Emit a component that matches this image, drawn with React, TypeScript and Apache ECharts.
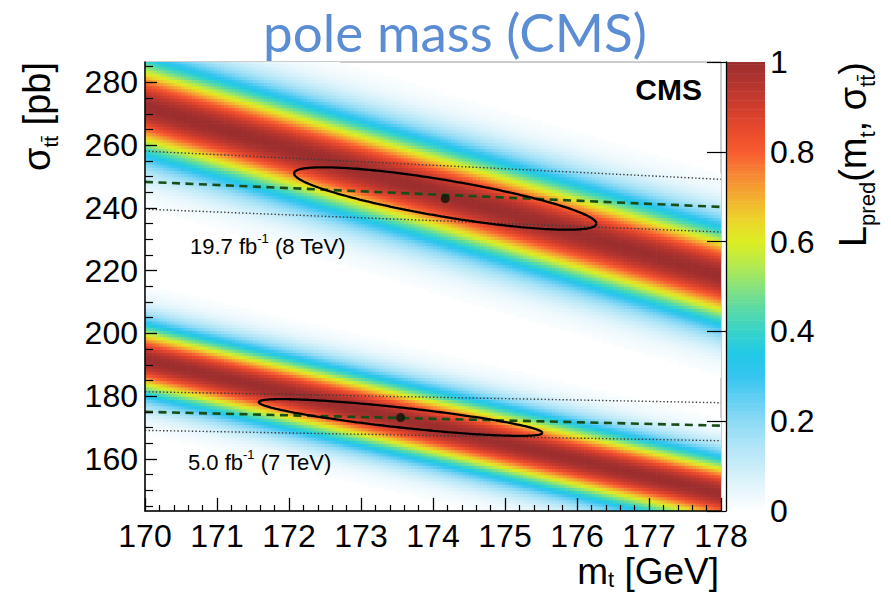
import React, { useEffect, useRef } from "react";
import * as echarts from "echarts";

// ---- axis ranges and ticks ----
const MT_MIN = 170;
const MT_MAX = 178;
const SIGMA_MIN = 143.4;
const SIGMA_MAX = 286.5;
const SIGMA_MAJOR_TICKS = [160, 180, 200, 220, 240, 260, 280];
const SIGMA_MINOR_TICKS = [
  145, 150, 155, 165, 170, 175, 185, 190, 195, 205, 210, 215, 225, 230, 235, 245, 250, 255, 265,
  270, 275, 285,
];
const L_MIN = 0;
const L_MAX = 1;

// ---- predicted likelihood bands: ridge sigma at mt = 170 and 178 GeV, gaussian width in pb ----
const BAND_RIDGE_8TEV = [272.5, 218.5];
const BAND_WIDTH_8TEV = 10.6;
const BAND_RIDGE_7TEV = [191.8, 149.2];
const BAND_WIDTH_7TEV = 7.8;

// ---- measured cross section vs. assumed mt (central, +/- 1 sd) at mt = 170 and 178 GeV ----
const MEAS_8TEV_CENTRAL = [248.3, 240.3];
const MEAS_8TEV_UP = [258.1, 249.1];
const MEAS_8TEV_DOWN = [239.6, 232.3];
const MEAS_7TEV_CENTRAL = [175.0, 170.6];
const MEAS_7TEV_UP = [181.4, 177.9];
const MEAS_7TEV_DOWN = [169.1, 165.8];

// ---- best-fit points (mt, sigma) and 1 sd contours (mt half-width, sigma half-height, correlation) ----
const BEST_8TEV = [174.17, 243.0];
const BEST_7TEV = [173.55, 173.2];
const CONTOUR_8TEV = [2.1, 9.94, -0.805];
const CONTOUR_7TEV = [1.97, 5.85, -0.838];

// ---- colour palette of L_pred, evenly spaced from 0 to 1 ----
const PALETTE = [
  "#ffffff", "#e6f6fc", "#c9edf9", "#ade4f7", "#8cdaf5", "#62cff3", "#36c5f0", "#22c8e6",
  "#36d3cb", "#58daa6", "#88e27c", "#b6ea4e", "#dcee22", "#ecd42a", "#f3ad30", "#f78734",
  "#f85c30", "#e84a2d", "#d03d2d", "#b5352f", "#9c2e2e",
];

const FONT = '"Liberation Sans", Arial, Helvetica, sans-serif';

// histogram binning of the likelihood map
const MT_BIN = 0.05;
const SIGMA_BIN = 1;
const SIGMA_BIN_START = 143;
const L_BIN = 0.005;

const BANDS = [
  { ridge: BAND_RIDGE_8TEV, width: BAND_WIDTH_8TEV },
  { ridge: BAND_RIDGE_7TEV, width: BAND_WIDTH_7TEV },
];

function ridgeAt(ridge: number[], mt: number) {
  return ridge[0] + ((ridge[1] - ridge[0]) * (mt - MT_MIN)) / (MT_MAX - MT_MIN);
}

function buildCells() {
  const cells: number[][] = [];
  const nMt = Math.round((MT_MAX - MT_MIN) / MT_BIN);
  for (let i = 0; i < nMt; i++) {
    const m0 = MT_MIN + i * MT_BIN;
    const mc = m0 + MT_BIN / 2;
    for (let j = 0; ; j++) {
      const s0 = SIGMA_BIN_START + j * SIGMA_BIN;
      if (s0 >= SIGMA_MAX) break;
      const sc = s0 + SIGMA_BIN / 2;
      let l = 0;
      for (const b of BANDS) {
        const d = (sc - ridgeAt(b.ridge, mc)) / b.width;
        l = Math.max(l, Math.exp(-0.5 * d * d));
      }
      if (l >= 0.01) cells.push([m0, s0, l]);
    }
  }
  return cells;
}

function buildScale() {
  const stripes: number[][] = [];
  const n = Math.round((L_MAX - L_MIN) / L_BIN);
  for (let k = 0; k < n; k++) {
    const z0 = L_MIN + k * L_BIN;
    stripes.push([0, z0, z0 + L_BIN / 2]);
  }
  return stripes;
}

function contour(center: number[], shape: number[]) {
  const [sx, sy, rho] = shape;
  const pts: number[][] = [];
  const n = 240;
  for (let k = 0; k <= n; k++) {
    const t = (2 * Math.PI * k) / n;
    const dx = sx * Math.cos(t);
    const dy = sy * (rho * Math.cos(t) + Math.sqrt(1 - rho * rho) * Math.sin(t));
    pts.push([center[0] + dx, center[1] + dy]);
  }
  return pts;
}

function measLine(vals: number[]) {
  return [
    [MT_MIN, vals[0]],
    [MT_MAX, vals[1]],
  ];
}

function buildOption(): any {
  const dotted = { color: "#3c3c3c", width: 1.4, type: [1.4, 2.2] };
  const dashed = { color: "#174d17", width: 2.6, type: [8, 5.5] };
  const lineSeries = (vals: number[], style: any) => ({
    type: "line",
    xAxisIndex: 0,
    yAxisIndex: 0,
    data: measLine(vals),
    symbol: "none",
    silent: true,
    z: 3,
    lineStyle: style,
  });
  const ellipse = (center: number[], shape: number[]) => ({
    type: "line",
    xAxisIndex: 0,
    yAxisIndex: 0,
    data: contour(center, shape),
    symbol: "none",
    silent: true,
    z: 4,
    lineStyle: { color: "#000", width: 2.3 },
  });

  const sub = (size: number, h: number, pad: number) => ({
    fontSize: size,
    fontFamily: FONT,
    fill: "#000",
    color: "#000",
    height: h,
    lineHeight: h,
    verticalAlign: "top",
    padding: [pad, 0, 0, 0],
  });
  const main = (size: number, h: number) => ({
    fontSize: size,
    fontFamily: FONT,
    fill: "#000",
    color: "#000",
    height: h,
    lineHeight: h,
    verticalAlign: "top",
  });

  const lumiLabel = (x: number, y: number, text: string) => ({
    type: "text",
    x,
    y,
    z: 20,
    style: {
      text,
      align: "left",
      textAlign: "left",
      verticalAlign: "middle",
      textVerticalAlign: "middle",
      fill: "#000",
      rich: { a: main(22, 28), s: sub(13, 13, 0) },
    },
  });

  const tickLabel = { fontSize: 32, color: "#000", fontFamily: FONT };

  return {
    animation: false,
    backgroundColor: "#fff",
    textStyle: { fontFamily: FONT },
    grid: [
      {
        left: 145,
        top: 62,
        width: 576,
        height: 449,
        show: true,
        borderColor: "#9a9a9a",
        borderWidth: 1,
        backgroundColor: "transparent",
      },
      { left: 726, top: 62, width: 39, height: 449 },
    ],
    visualMap: {
      type: "continuous",
      show: false,
      min: L_MIN,
      max: L_MAX,
      dimension: 2,
      seriesIndex: [0, 1],
      inRange: { color: PALETTE },
    },
    xAxis: [
      {
        type: "value",
        gridIndex: 0,
        min: MT_MIN,
        max: MT_MAX,
        interval: 1,
        z: 6,
        axisLine: { show: true, onZero: false, lineStyle: { color: "#000", width: 1.5 } },
        axisTick: { show: true, inside: true, length: 13, lineStyle: { color: "#000", width: 1.3 } },
        minorTick: { show: true, splitNumber: 5, length: 6, lineStyle: { color: "#000", width: 1.2 } },
        axisLabel: { ...tickLabel, margin: 9 },
        splitLine: { show: false },
      },
      { type: "value", gridIndex: 1, min: 0, max: 1, show: false },
    ],
    yAxis: [
      {
        type: "value",
        gridIndex: 0,
        min: SIGMA_MIN,
        max: SIGMA_MAX,
        z: 6,
        axisLine: { show: true, onZero: false, lineStyle: { color: "#000", width: 1.5 } },
        axisTick: {
          show: true,
          inside: true,
          length: 12,
          customValues: SIGMA_MAJOR_TICKS,
          lineStyle: { color: "#000", width: 1.3 },
        },
        axisLabel: { ...tickLabel, margin: 7, customValues: SIGMA_MAJOR_TICKS },
        splitLine: { show: false },
      },
      {
        type: "value",
        gridIndex: 0,
        min: SIGMA_MIN,
        max: SIGMA_MAX,
        position: "left",
        z: 6,
        axisLine: { show: false },
        axisTick: {
          show: true,
          inside: true,
          length: 8,
          customValues: SIGMA_MINOR_TICKS,
          lineStyle: { color: "#000", width: 1.2 },
        },
        axisLabel: { show: false },
        splitLine: { show: false },
      },
      {
        type: "value",
        gridIndex: 1,
        min: L_MIN,
        max: L_MAX,
        interval: 0.2,
        position: "right",
        z: 6,
        axisLine: { show: true, lineStyle: { color: "#000", width: 1.3 } },
        axisTick: { show: true, inside: true, length: 19, lineStyle: { color: "#000", width: 1.2 } },
        axisLabel: { ...tickLabel, margin: 5 },
        splitLine: { show: false },
      },
    ],
    series: [
      {
        type: "custom",
        name: "L_pred",
        xAxisIndex: 0,
        yAxisIndex: 0,
        data: buildCells(),
        encode: { x: 0, y: 1 },
        clip: true,
        silent: true,
        progressive: 0,
        progressiveThreshold: 1000000,
        z: 1,
        renderItem: (_params: any, api: any) => {
          const m0 = api.value(0);
          const s0 = api.value(1);
          const tl = api.coord([m0, s0 + SIGMA_BIN]);
          const br = api.coord([m0 + MT_BIN, s0]);
          return {
            type: "rect",
            shape: { x: tl[0], y: tl[1], width: br[0] - tl[0] + 0.7, height: br[1] - tl[1] + 0.7 },
            style: { fill: api.visual("color") },
          };
        },
      },
      {
        type: "custom",
        name: "scale",
        xAxisIndex: 1,
        yAxisIndex: 2,
        data: buildScale(),
        encode: { x: 0, y: 1 },
        silent: true,
        progressive: 0,
        z: 1,
        renderItem: (_params: any, api: any) => {
          const z0 = api.value(1);
          const tl = api.coord([0, z0 + L_BIN]);
          const br = api.coord([1, z0]);
          return {
            type: "rect",
            shape: { x: tl[0], y: tl[1], width: br[0] - tl[0], height: br[1] - tl[1] + 0.6 },
            style: { fill: api.visual("color") },
          };
        },
      },
      lineSeries(MEAS_8TEV_UP, dotted),
      lineSeries(MEAS_8TEV_DOWN, dotted),
      lineSeries(MEAS_7TEV_UP, dotted),
      lineSeries(MEAS_7TEV_DOWN, dotted),
      lineSeries(MEAS_8TEV_CENTRAL, dashed),
      lineSeries(MEAS_7TEV_CENTRAL, dashed),
      ellipse(BEST_8TEV, CONTOUR_8TEV),
      ellipse(BEST_7TEV, CONTOUR_7TEV),
      {
        type: "scatter",
        xAxisIndex: 0,
        yAxisIndex: 0,
        data: [BEST_8TEV, BEST_7TEV],
        symbol: "circle",
        symbolSize: 9,
        silent: true,
        z: 5,
        itemStyle: { color: "#061806" },
      },
    ],
    graphic: [
      {
        type: "text",
        x: 455,
        y: 31,
        style: {
          text: "pole mass (CMS)",
          fontSize: 53,
          fontFamily: "Lato, 'Open Sans', sans-serif",
          fill: "#5b8dd4",
          align: "center",
          textAlign: "center",
          verticalAlign: "middle",
          textVerticalAlign: "middle",
        },
      },
      {
        type: "text",
        x: 702,
        y: 89,
        z: 20,
        style: {
          text: "CMS",
          fontSize: 30,
          fontWeight: "bold",
          fontFamily: FONT,
          fill: "#000",
          align: "right",
          textAlign: "right",
          verticalAlign: "middle",
          textVerticalAlign: "middle",
        },
      },
      lumiLabel(190, 246, "{a|19.7 fb}{s|-1}{a| (8 TeV)}"),
      lumiLabel(188, 462, "{a|5.0 fb}{s|-1}{a| (7 TeV)}"),
      {
        type: "text",
        x: 719,
        y: 571,
        style: {
          text: "{m|m}{s|t}{m| [GeV]}",
          align: "right",
          textAlign: "right",
          verticalAlign: "middle",
          textVerticalAlign: "middle",
          fill: "#000",
          rich: { m: main(37, 32), s: sub(22, 16, 16) },
        },
      },
      {
        type: "group",
        x: 37,
        y: 62,
        rotation: Math.PI / 2,
        children: [
          {
            type: "text",
            x: 0,
            y: 0,
            style: {
              text: "{m|\u03c3}{s|tt\u0304}{m| [pb]}",
              align: "right",
              textAlign: "right",
              verticalAlign: "middle",
              textVerticalAlign: "middle",
              fill: "#000",
              rich: { m: main(38, 40), s: sub(21, 21, 23) },
            },
          },
        ],
      },
      {
        type: "group",
        x: 853,
        y: 62,
        rotation: Math.PI / 2,
        children: [
          {
            type: "text",
            x: 0,
            y: 0,
            style: {
              text: "{m|L}{s|pred}{m|(m}{s|t}{m|, \u03c3}{s|tt\u0304}{m|)}",
              align: "right",
              textAlign: "right",
              verticalAlign: "middle",
              textVerticalAlign: "middle",
              fill: "#000",
              rich: { m: main(38, 40), s: sub(22, 22, 23) },
            },
          },
        ],
      },
    ],
  };
}

export default function App() {
  const ref = useRef<HTMLDivElement>(null);
  useEffect(() => {
    if (!ref.current) return;
    const chart = echarts.init(ref.current, undefined, { renderer: "svg" });
    chart.setOption(buildOption());
    return () => chart.dispose();
  }, []);
  return (
    <div
      ref={ref}
      style={{ position: "absolute", left: 0, top: 0, width: 891, height: 594, background: "#fff" }}
    />
  );
}
